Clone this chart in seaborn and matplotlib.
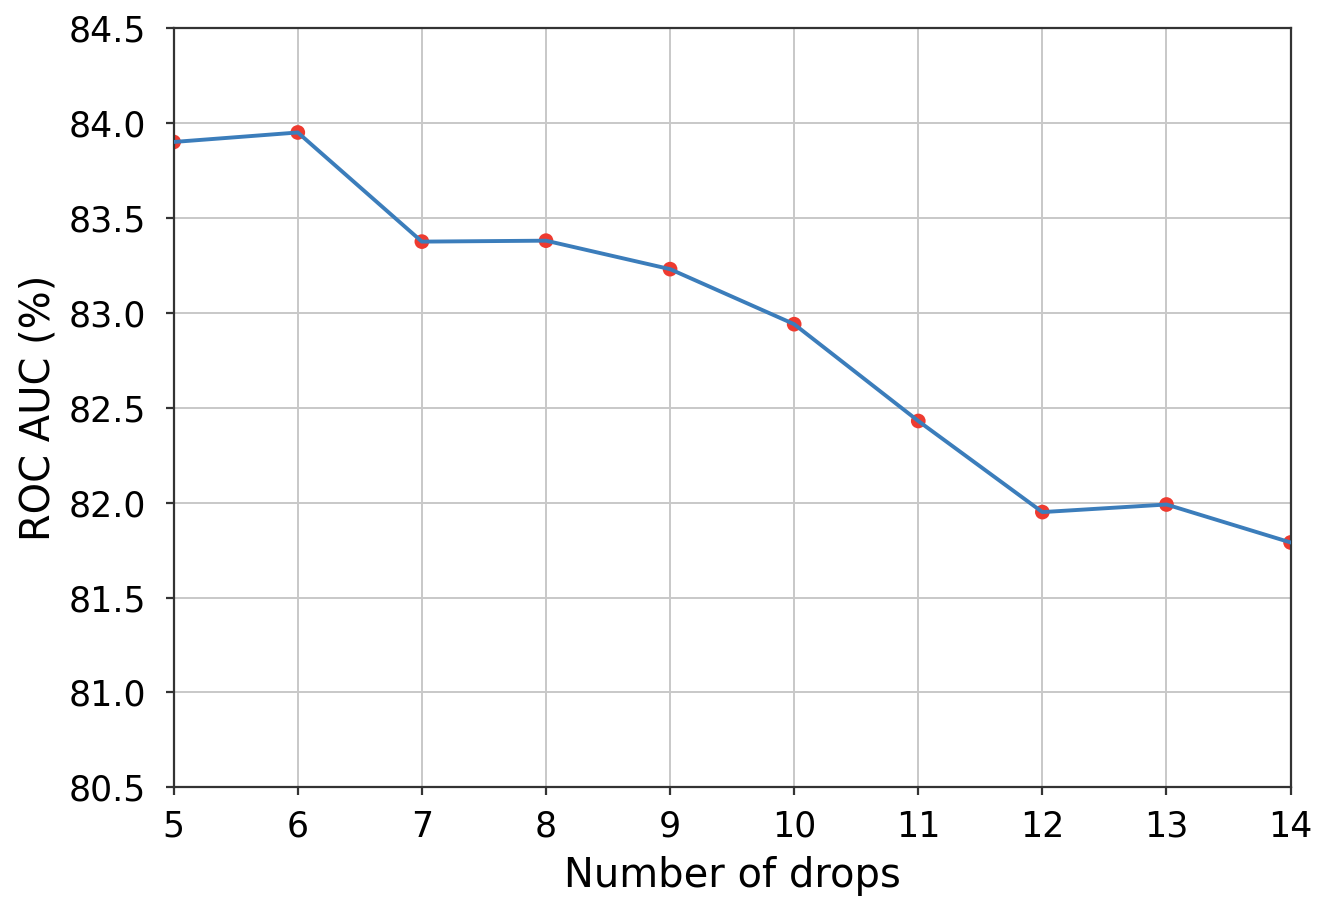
import pandas as pd
import matplotlib
matplotlib.use("Agg")
import matplotlib.pyplot as plt
import seaborn as sns

# values
drops = [5, 6, 7, 8, 9, 10, 11, 12, 13, 14]
roc_auc = [83.90, 83.95, 83.375, 83.38, 83.23, 82.94, 82.43, 81.95, 81.99, 81.79]
y_ticks = [80.5, 81.0, 81.5, 82.0, 82.5, 83.0, 83.5, 84.0, 84.5]

df = pd.DataFrame({"drops": drops, "auc": roc_auc})

sns.set_style("ticks")
plt.rcParams["font.family"] = ["DejaVu Sans"]
plt.rcParams["text.color"] = "black"
plt.rcParams["axes.labelcolor"] = "black"
plt.rcParams["xtick.color"] = "black"
plt.rcParams["ytick.color"] = "black"

fig, ax = plt.subplots(figsize=(6.68, 4.53), dpi=200)
fig.subplots_adjust(left=0.130, right=0.966, top=0.969, bottom=0.131)

# red dots under the blue line
sns.scatterplot(data=df, x="drops", y="auc", color="#ee3b30", s=28,
                edgecolor="none", ax=ax, zorder=2)
sns.lineplot(data=df, x="drops", y="auc", color="#3b7dbb", linewidth=1.4,
             ax=ax, zorder=3)

ax.set_xlim(5, 14)
ax.set_ylim(80.5, 84.5)
ax.set_xticks(drops)
ax.set_yticks(y_ticks)
ax.set_yticklabels([f"{v:.1f}" for v in y_ticks])
ax.grid(True, color="#c8c8c8", linewidth=0.7)
ax.set_axisbelow(True)

for side in ["top", "right", "left", "bottom"]:
    ax.spines[side].set_visible(True)
    ax.spines[side].set_color("#333333")
    ax.spines[side].set_linewidth(0.8)

ax.tick_params(axis="both", labelsize=12.5, length=3, width=0.8,
               color="#333333", labelcolor="black")
ax.tick_params(axis="y", pad=7)
ax.tick_params(axis="x", pad=5)
ax.set_xlabel("Number of drops", fontsize=14.4, labelpad=4.5)
ax.set_ylabel("ROC AUC (%)", fontsize=14.4, labelpad=3.5)

fig.savefig("out.png", dpi=200)
